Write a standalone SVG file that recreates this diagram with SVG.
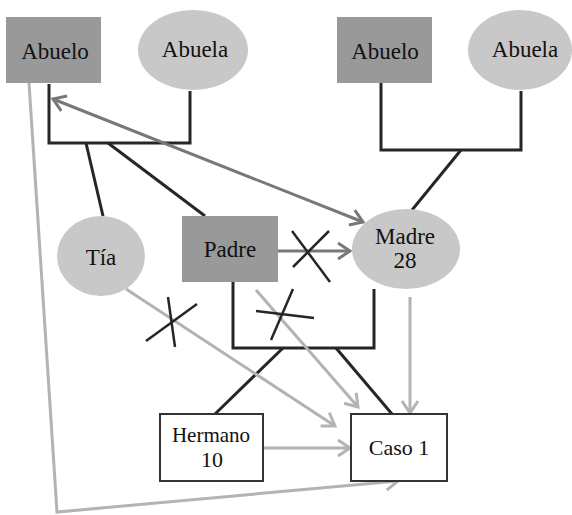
<svg xmlns="http://www.w3.org/2000/svg" width="572" height="515" viewBox="0 0 572 515">
<style>
.m{fill:#999999}
.f{fill:#c8c8c8}
.w{fill:#ffffff;stroke:#333333;stroke-width:2}
text{font-family:'Liberation Serif','Times New Roman',serif;fill:#111111;text-anchor:middle}
.k{fill:none;stroke:#262626;stroke-width:3}
.d{fill:none;stroke:#787878;stroke-width:3}
.l{fill:none;stroke:#b3b3b3;stroke-width:3}
.x{stroke:#262626;stroke-width:2.5}
</style>
<defs>
<marker id="ad" markerUnits="userSpaceOnUse" markerWidth="20" markerHeight="20" refX="14" refY="10" orient="auto-start-reverse"><path d="M2,2 L14,10 L2,18" fill="none" stroke="#787878" stroke-width="3"/></marker>
<marker id="al" markerUnits="userSpaceOnUse" markerWidth="20" markerHeight="20" refX="14" refY="10" orient="auto-start-reverse"><path d="M2,2 L14,10 L2,18" fill="none" stroke="#b3b3b3" stroke-width="3"/></marker>
</defs>
<g id="connectors">
<polyline class="k" points="49,84 49,143 190,143 190,91"/>
<line class="k" x1="86" y1="143" x2="103" y2="216"/>
<line class="k" x1="108" y1="143" x2="205" y2="216"/>
<polyline class="k" points="381,83 381,150 521,150 521,91"/>
<line class="k" x1="461" y1="150" x2="412" y2="210"/>
<polyline class="k" points="233,282 233,348 374,348 374,289"/>
<line class="k" x1="283" y1="348" x2="215" y2="414"/>
<line class="k" x1="336" y1="348" x2="392" y2="414"/>
<polyline class="l" points="29,83 57,512 398,481" marker-end="url(#al)"/>
<line class="l" x1="126" y1="289" x2="335" y2="426" marker-end="url(#al)"/>
<line class="l" x1="256" y1="290" x2="358" y2="407" marker-end="url(#al)"/>
<line class="l" x1="410" y1="297" x2="410" y2="413" marker-end="url(#al)"/>
<line class="l" x1="263" y1="448" x2="350" y2="448" marker-end="url(#al)"/>
<line class="d" x1="53" y1="99" x2="363" y2="222" marker-start="url(#ad)" marker-end="url(#ad)"/>
<line class="d" x1="278" y1="251" x2="350" y2="251" marker-end="url(#ad)"/>
<line class="x" x1="292" y1="231" x2="330" y2="282"/>
<line class="x" x1="293" y1="267" x2="329" y2="231"/>
<line class="x" x1="168" y1="297" x2="175" y2="347"/>
<line class="x" x1="146" y1="341" x2="197" y2="304"/>
<line class="x" x1="256" y1="311" x2="314" y2="318"/>
<line class="x" x1="293" y1="289" x2="271" y2="340"/>
</g>
<g id="abuelo1"><rect class="m" x="6" y="17" width="95" height="66"/><text x="55" y="59" font-size="23">Abuelo</text></g>
<g id="abuela1"><ellipse class="f" cx="193" cy="50" rx="55" ry="40"/><text x="195" y="57" font-size="23">Abuela</text></g>
<g id="abuelo2"><rect class="m" x="337" y="17" width="95" height="66"/><text x="385" y="59" font-size="23">Abuelo</text></g>
<g id="abuela2"><ellipse class="f" cx="520" cy="50" rx="52" ry="40"/><text x="525" y="57" font-size="23">Abuela</text></g>
<g id="tia"><ellipse class="f" cx="101" cy="256" rx="44" ry="40"/><text x="101" y="265" font-size="23">Tía</text></g>
<g id="padre"><rect class="m" x="182" y="216" width="96" height="66"/><text x="230" y="257" font-size="23">Padre</text></g>
<g id="madre"><ellipse class="f" cx="406" cy="249" rx="54" ry="40"/><text x="405" y="244" font-size="23">Madre</text><text x="405" y="268" font-size="23">28</text></g>
<g id="hermano"><rect class="w" x="160" y="414" width="103" height="67"/><text x="211" y="442" font-size="21">Hermano</text><text x="212" y="467" font-size="22">10</text></g>
<g id="caso1"><rect class="w" x="351" y="414" width="96" height="67"/><text x="399" y="455" font-size="22">Caso 1</text></g>
</svg>
